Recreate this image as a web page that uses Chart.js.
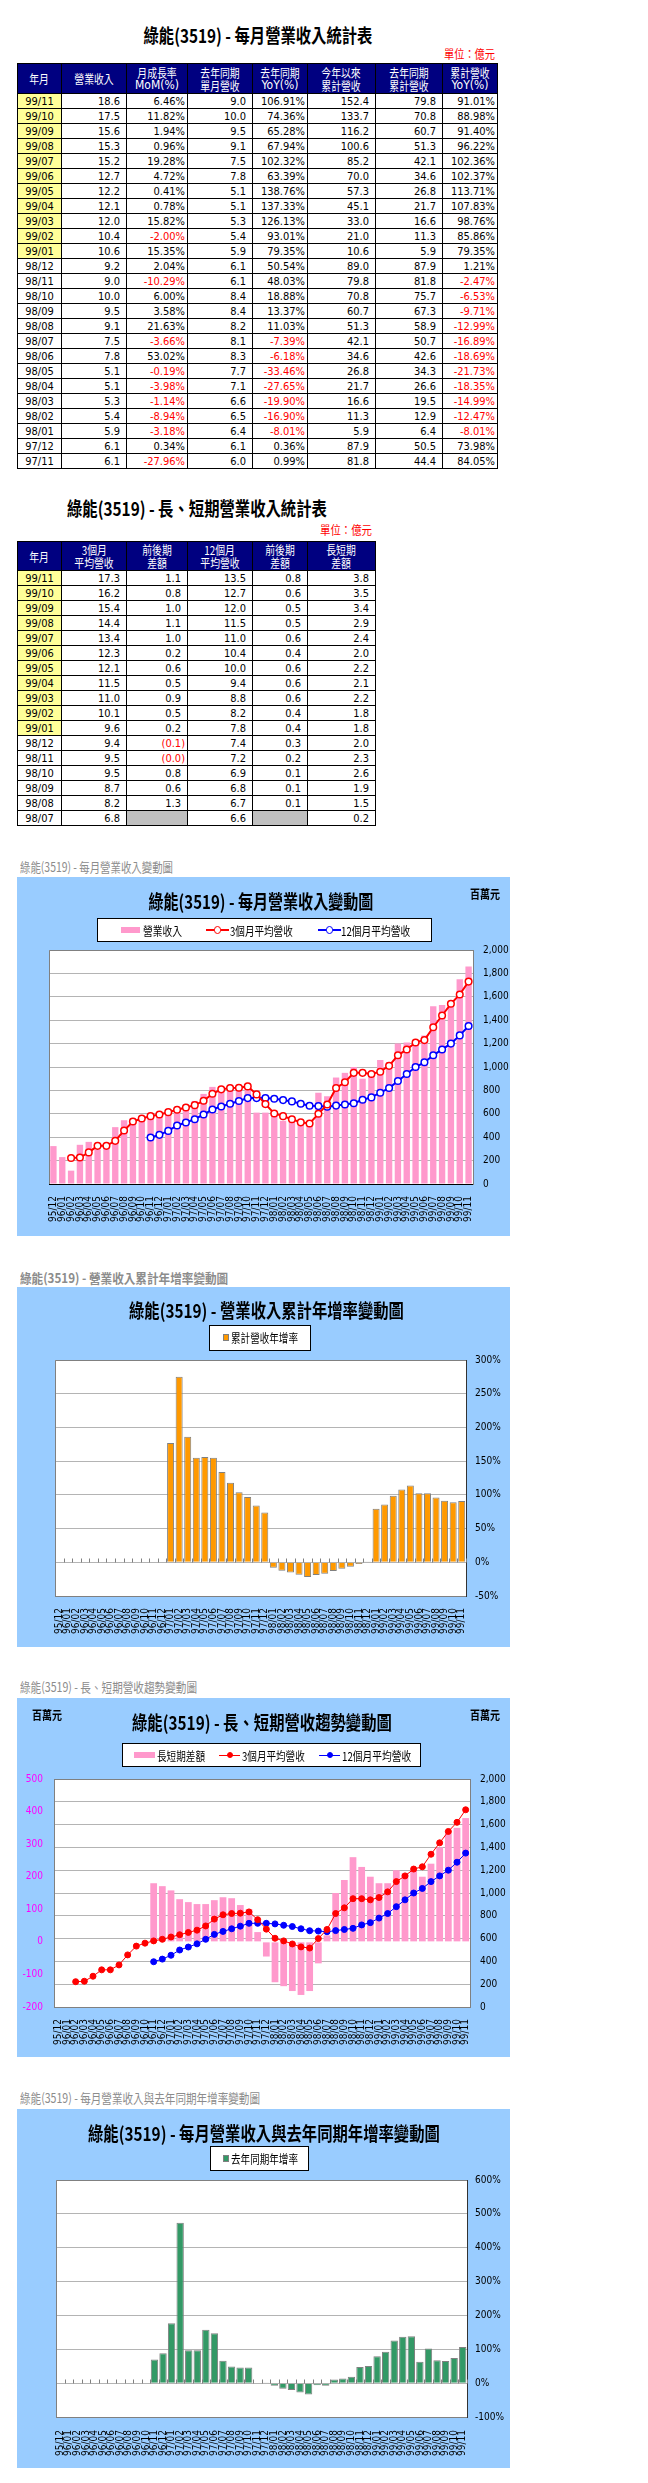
<!DOCTYPE html>
<html>
<head>
<meta charset="utf-8">
<script src="https://cdn.jsdelivr.net/npm/chart.js@4.4.1/dist/chart.umd.min.js"></script>
<style>
body{margin:0;width:648px;height:2483px;position:relative;background:#fff;overflow:hidden;}
.lbl{position:absolute;white-space:nowrap;line-height:1.25;font-family:'Noto Sans CJK TC',sans-serif;}
.cell{position:absolute;box-sizing:border-box;border:1px solid #000;display:flex;align-items:center;justify-content:flex-end;
  font-size:11px;line-height:13px;white-space:nowrap;overflow:hidden;color:#000;
  font-family:'Liberation Sans Narrow','DejaVu Sans Condensed','Noto Sans CJK TC',sans-serif;}
.cell.hd{background:#000080;color:#fff;justify-content:center;flex-direction:column;align-items:center;font-size:12px;}
.cell.hd span{display:block;}
.cell.hd .sx{transform:scaleX(.82);font-family:'Noto Sans CJK TC',sans-serif;font-size:12px;}
.cell.ym{justify-content:center;}
.cell.hl{background:#ffff99;}
.cell.neg{color:#ff0000;}
.cell.gray{background:#c0c0c0;}
.box{position:absolute;left:17px;width:493px;background:#99ccff;}
.box canvas{position:absolute;left:0;top:0;}
.lgd{position:absolute;background:#fff;border:1px solid #000;box-sizing:border-box;}
.pc{position:absolute;}
</style>
</head>
<body>
<div class="box" style="top:877px;height:359px"><canvas id="c1" width="493" height="359"></canvas></div>
<div class="box" style="top:1287px;height:360px"><canvas id="c2" width="493" height="360"></canvas></div>
<div class="box" style="top:1698px;height:359px"><canvas id="c3" width="493" height="359"></canvas></div>
<div class="box" style="top:2109px;height:359px"><canvas id="c4" width="493" height="359"></canvas></div>
<script>
// 月份 95/12 ~ 99/11
const months = ['95/12','96/01','96/02','96/03','96/04','96/05','96/06','96/07','96/08','96/09','96/10','96/11',
  '96/12','97/01','97/02','97/03','97/04','97/05','97/06','97/07','97/08','97/09','97/10','97/11',
  '97/12','98/01','98/02','98/03','98/04','98/05','98/06','98/07','98/08','98/09','98/10','98/11',
  '98/12','99/01','99/02','99/03','99/04','99/05','99/06','99/07','99/08','99/09','99/10','99/11'];

// 百萬元
const revenue = [324,230,114,335,360,296,335,486,545,565,575,600,
  610,640,650,660,710,770,830,810,820,840,840,610,
  610,590,540,530,510,510,780,750,910,950,1000,900,
  920,1060,1040,1200,1210,1220,1270,1520,1530,1560,1750,1860];
const avg3 = [null,null,222,226,270,326,326,369,457,534,560,580,
  594,614,634,654,674,711,771,809,820,823,834,766,
  683,603,580,553,527,517,600,680,820,870,950,950,
  940,960,1010,1100,1150,1210,1230,1340,1440,1540,1620,1730];
const avg12 = [null,null,null,null,null,null,null,null,null,null,null,397,
  420,454,500,526,554,594,637,663,686,709,734,734,
  734,729,717,706,686,669,666,660,670,680,690,720,
  740,780,820,880,940,1000,1040,1100,1150,1200,1270,1350];
const gapDiff = [null,null,null,null,null,null,null,null,null,null,null,180,
  171,158,131,122,116,116,128,137,134,113,100,30,
  -45,-124,-136,-151,-163,-151,-66,20,150,190,260,230,
  200,180,180,220,210,220,200,240,290,340,350,380];
// %
const cumYoY = [null,null,null,null,null,null,null,null,null,null,null,null,
  null,177,275,186,155,156,155,134,118,104,97,84.05,
  73.98,-8.01,-12.47,-14.99,-18.35,-21.73,-18.69,-16.89,-12.99,-9.71,-6.53,-2.47,
  1.21,79.35,85.86,98.76,107.83,113.71,102.37,102.36,96.22,91.40,88.98,91.01];
const monthYoY = [null,null,null,null,null,null,null,null,null,null,null,70,
  88,177,474,97,97,158,147,66,49,46,46,0.99,
  0.36,-8.01,-16.90,-19.90,-27.65,-33.46,-6.18,-7.39,11.03,13.37,18.88,48.03,
  50.54,79.35,93.01,126.13,137.33,138.76,63.39,102.32,67.94,65.28,74.36,106.91];

// 每月營業收入統計表 (億元)
const tblMonths = ['99/11','99/10','99/09','99/08','99/07','99/06','99/05','99/04','99/03','99/02','99/01',
  '98/12','98/11','98/10','98/09','98/08','98/07','98/06','98/05','98/04','98/03','98/02','98/01','97/12','97/11'];
const tblRev = [18.6,17.5,15.6,15.3,15.2,12.7,12.2,12.1,12.0,10.4,10.6,9.2,9.0,10.0,9.5,9.1,7.5,7.8,5.1,5.1,5.3,5.4,5.9,6.1,6.1];
const tblMom = [6.46,11.82,1.94,0.96,19.28,4.72,0.41,0.78,15.82,-2.00,15.35,2.04,-10.29,6.00,3.58,21.63,-3.66,53.02,-0.19,-3.98,-1.14,-8.94,-3.18,0.34,-27.96];
const tblLyRev = [9.0,10.0,9.5,9.1,7.5,7.8,5.1,5.1,5.3,5.4,5.9,6.1,6.1,8.4,8.4,8.2,8.1,8.3,7.7,7.1,6.6,6.5,6.4,6.1,6.0];
const tblYoy = [106.91,74.36,65.28,67.94,102.32,63.39,138.76,137.33,126.13,93.01,79.35,50.54,48.03,18.88,13.37,11.03,-7.39,-6.18,-33.46,-27.65,-19.90,-16.90,-8.01,0.36,0.99];
const tblYtd = [152.4,133.7,116.2,100.6,85.2,70.0,57.3,45.1,33.0,21.0,10.6,89.0,79.8,70.8,60.7,51.3,42.1,34.6,26.8,21.7,16.6,11.3,5.9,87.9,81.8];
const tblLyYtd = [79.8,70.8,60.7,51.3,42.1,34.6,26.8,21.7,16.6,11.3,5.9,87.9,81.8,75.7,67.3,58.9,50.7,42.6,34.3,26.6,19.5,12.9,6.4,50.5,44.4];
const tblYtdYoy = [91.01,88.98,91.40,96.22,102.36,102.37,113.71,107.83,98.76,85.86,79.35,1.21,-2.47,-6.53,-9.71,-12.99,-16.89,-18.69,-21.73,-18.35,-14.99,-12.47,-8.01,73.98,84.05];

// 長、短期營業收入統計表 (億元)
const t2Months = ['99/11','99/10','99/09','99/08','99/07','99/06','99/05','99/04','99/03','99/02','99/01','98/12','98/11','98/10','98/09','98/08','98/07'];
const t2Avg3 = [17.3,16.2,15.4,14.4,13.4,12.3,12.1,11.5,11.0,10.1,9.6,9.4,9.5,9.5,8.7,8.2,6.8];
const t2Avg3Chg = [1.1,0.8,1.0,1.1,1.0,0.2,0.6,0.5,0.9,0.5,0.2,-0.1,-0.04,0.8,0.6,1.3,null];
const t2Avg12 = [13.5,12.7,12.0,11.5,11.0,10.4,10.0,9.4,8.8,8.2,7.8,7.4,7.2,6.9,6.8,6.7,6.6];
const t2Avg12Chg = [0.8,0.6,0.5,0.5,0.6,0.4,0.6,0.6,0.6,0.4,0.4,0.3,0.2,0.1,0.1,0.1,null];
const t2Diff = [3.8,3.5,3.4,2.9,2.4,2.0,2.2,2.1,2.2,1.8,1.8,2.0,2.3,2.6,1.9,1.5,0.2];

// ---------- 文字 ----------
function place(text, o) {
    const d = document.createElement('div');
    d.className = 'lbl';
    d.textContent = text;
    d.style.fontSize = (o.size || 12) + 'px';
    if (o.bold) d.style.fontWeight = 'bold';
    d.style.color = o.color || '#000';
    document.body.appendChild(d);
    const w = d.offsetWidth, h = d.offsetHeight;
    const s = o.w ? o.w / w : 1;
    let left, origin;
    if (o.cx !== undefined) { left = o.cx - w / 2; origin = 'center'; }
    else if (o.x1 !== undefined) { left = o.x1 - w; origin = 'right'; }
    else { left = o.x0; origin = 'left'; }
    d.style.left = left + 'px';
    d.style.top = (o.cy - h / 2) + 'px';
    d.style.transformOrigin = origin + ' center';
    d.style.transform = 'scaleX(' + s + ')';
}

function piece(x, y, w, h, css) {
    const d = document.createElement('div');
    d.className = 'pc';
    d.style.cssText = 'left:' + x + 'px;top:' + y + 'px;width:' + w + 'px;height:' + h + 'px;' + (css || '');
    document.body.appendChild(d);
    return d;
}
function legendBox(x, y, w, h) {
    const d = document.createElement('div');
    d.className = 'lgd';
    d.style.cssText = 'left:' + x + 'px;top:' + y + 'px;width:' + w + 'px;height:' + h + 'px;';
    document.body.appendChild(d);
}
function lineMark(x1, x2, y, color, lw, r, fill) {
    piece(x1, y - lw / 2, x2 - x1, lw, 'background:' + color);
    piece(((x1 + x2) / 2) - r, y - r, 2 * r, 2 * r,
        'box-sizing:border-box;border-radius:50%;background:' + fill + ';border:1.5px solid ' + color);
}

// ---------- 表格 ----------
function cell(x0, x1, y0, y1, html, cls, pr) {
    const d = document.createElement('div');
    d.className = 'cell ' + (cls || '');
    d.style.left = x0 + 'px';
    d.style.top = y0 + 'px';
    d.style.width = (x1 - x0 + 1) + 'px';
    d.style.height = (y1 - y0 + 1) + 'px';
    if (pr !== undefined) d.style.paddingRight = pr + 'px';
    d.innerHTML = html;
    document.body.appendChild(d);
}
function header(lines) {
    return lines.map(t => /[\u4e00-\u9fff]/.test(t) ? '<span class="sx">' + t + '</span>' : '<span>' + t + '</span>').join('');
}

place('綠能(3519) - 每月營業收入統計表', { cx: 257.5, cy: 35, w: 229, size: 19, bold: true });
place('單位：億元', { x1: 495, cy: 53, w: 51, size: 12, color: '#ff0000' });

const xs1 = [17, 61, 126, 187, 252, 307, 375, 442, 497];
const head1 = [['年月'], ['營業收入'], ['月成長率', 'MoM(%)'], ['去年同期', '單月營收'], ['去年同期', 'YoY(%)'],
    ['今年以來', '累計營收'], ['去年同期', '累計營收'], ['累計營收', 'YoY(%)']];
head1.forEach((h, c) => cell(xs1[c], xs1[c + 1], 63, 93, header(h), 'hd'));
tblMonths.forEach((m, i) => {
    const y0 = 93 + i * 15, y1 = y0 + 15;
    const num = (c, v) => cell(xs1[c], xs1[c + 1], y0, y1, v.toFixed(1), '', 6);
    const pct = (c, v) => cell(xs1[c], xs1[c + 1], y0, y1, v.toFixed(2) + '%', v < 0 ? 'neg' : '', 2);
    cell(xs1[0], xs1[1], y0, y1, m, 'ym' + (m.startsWith('99') ? ' hl' : ''));
    num(1, tblRev[i]);
    pct(2, tblMom[i]);
    num(3, tblLyRev[i]);
    pct(4, tblYoy[i]);
    num(5, tblYtd[i]);
    num(6, tblLyYtd[i]);
    pct(7, tblYtdYoy[i]);
});

place('綠能(3519) - 長、短期營業收入統計表', { cx: 197, cy: 508, w: 260, size: 19, bold: true });
place('單位：億元', { x1: 372, cy: 529, w: 52, size: 12, color: '#ff0000' });

const xs2 = [17, 61, 126, 187, 252, 307, 375];
const head2 = [['年月'], ['3個月', '平均營收'], ['前後期', '差額'], ['12個月', '平均營收'], ['前後期', '差額'], ['長短期', '差額']];
head2.forEach((h, c) => cell(xs2[c], xs2[c + 1], 541, 570, header(h), 'hd'));
t2Months.forEach((m, i) => {
    const y0 = 570 + i * 15, y1 = y0 + 15;
    const num = (c, v) => cell(xs2[c], xs2[c + 1], y0, y1, v.toFixed(1), '', 6);
    const chg = (c, v) => {
        if (v === null) cell(xs2[c], xs2[c + 1], y0, y1, '', 'gray');
        else if (v < 0) cell(xs2[c], xs2[c + 1], y0, y1, '(' + Math.abs(v).toFixed(1) + ')', 'neg', 2);
        else num(c, v);
    };
    cell(xs2[0], xs2[1], y0, y1, m, 'ym' + (m.startsWith('99') ? ' hl' : ''));
    num(1, t2Avg3[i]);
    chg(2, t2Avg3Chg[i]);
    num(3, t2Avg12[i]);
    chg(4, t2Avg12Chg[i]);
    num(5, t2Diff[i]);
});

// ---------- 圖表 ----------
Chart.defaults.font.family = "'Liberation Sans Narrow','DejaVu Sans Condensed',sans-serif";
Chart.defaults.font.size = 10;
Chart.defaults.color = '#000';
Chart.defaults.animation = false;
Chart.defaults.plugins.legend.display = false;
Chart.defaults.plugins.tooltip.enabled = false;

// 白底 + 左、上框線
const frame = {
    id: 'frame',
    beforeDraw(c) {
        const a = c.chartArea, ctx = c.ctx;
        ctx.save();
        ctx.fillStyle = '#fff';
        ctx.fillRect(a.left, a.top, a.width, a.height);
        ctx.restore();
    },
    beforeDatasetsDraw(c) {
        const a = c.chartArea, ctx = c.ctx;
        const l = Math.round(a.left) + 0.5, t = Math.round(a.top) + 0.5;
        ctx.save();
        ctx.strokeStyle = '#808080';
        ctx.lineWidth = 1;
        ctx.beginPath();
        ctx.moveTo(l, Math.round(a.bottom));
        ctx.lineTo(l, t);
        ctx.lineTo(Math.round(a.right), t);
        ctx.stroke();
        ctx.restore();
    }
};

// 0 軸上的刻度
const zeroTicks = {
    id: 'zeroTicks',
    beforeDatasetsDraw(c) {
        const x = c.scales.x, y0 = Math.round(c.scales.y.getPixelForValue(0)) + 0.5;
        const step = x.getPixelForValue(1) - x.getPixelForValue(0);
        const ctx = c.ctx;
        ctx.save();
        ctx.strokeStyle = '#808080';
        ctx.lineWidth = 1;
        ctx.beginPath();
        for (let i = 0; i <= months.length; i++) {
            const px = Math.round(x.getPixelForValue(0) - step / 2 + i * step) + 0.5;
            ctx.moveTo(px, y0);
            ctx.lineTo(px, y0 - 4);
        }
        ctx.stroke();
        ctx.restore();
    }
};

function xAxis(h, color, pad) {
    return {
        type: 'category',
        grid: { display: false, drawTicks: false },
        border: { color: color },
        ticks: { autoSkip: false, maxRotation: 90, minRotation: 90, padding: pad },
        afterFit(s) { s.height = h; }
    };
}
function yRight(min, max, step, w, pad, fmt, borderColor) {
    return {
        position: 'right', min: min, max: max,
        ticks: { stepSize: step, padding: pad, callback: fmt },
        grid: { color: '#b4b4b4', drawTicks: false },
        border: { color: borderColor },
        afterFit(s) { s.width = w; }
    };
}
const money = v => v.toLocaleString('en-US');
const pctFmt = v => v + '%';

// 圖一：每月營業收入變動圖
new Chart(document.getElementById('c1'), {
    type: 'bar',
    data: {
        labels: months,
        datasets: [
            { type: 'bar', label: '營業收入', data: revenue, backgroundColor: '#ff99cc',
              barPercentage: 0.72, categoryPercentage: 1, order: 3 },
            { type: 'line', label: '3個月平均營收', data: avg3, borderColor: '#ff0000', borderWidth: 2,
              pointRadius: 3.3, pointBackgroundColor: '#fff', pointBorderColor: '#ff0000', pointBorderWidth: 1.5, order: 1 },
            { type: 'line', label: '12個月平均營收', data: avg12, borderColor: '#0000ff', borderWidth: 2,
              pointRadius: 3.3, pointBackgroundColor: '#fff', pointBorderColor: '#0000ff', pointBorderWidth: 1.5, order: 2 }
        ]
    },
    options: {
        responsive: false, devicePixelRatio: 1,
        layout: { padding: { left: 32, top: 73, right: 0, bottom: 0 } },
        scales: { x: xAxis(52, '#000', 12), y: yRight(0, 2000, 200, 37, 10, money, '#808080') }
    },
    plugins: [frame]
});

// 圖二：營業收入累計年增率變動圖
new Chart(document.getElementById('c2'), {
    type: 'bar',
    data: {
        labels: months,
        datasets: [{ label: '累計營收年增率', data: cumYoY, backgroundColor: '#ff9900', borderColor: '#808080',
            borderWidth: 1, barPercentage: 0.82, categoryPercentage: 1 }]
    },
    options: {
        responsive: false, devicePixelRatio: 1,
        layout: { padding: { left: 38, top: 73, right: 0, bottom: 0 } },
        scales: { x: xAxis(51, '#808080', 12), y: yRight(-50, 300, 50, 44, 9, pctFmt, '#333') }
    },
    plugins: [frame, zeroTicks]
});

// 圖三：長、短期營收趨勢變動圖
new Chart(document.getElementById('c3'), {
    type: 'bar',
    data: {
        labels: months,
        datasets: [
            { type: 'bar', label: '長短期差額', data: gapDiff, yAxisID: 'yL', backgroundColor: '#ff99cc',
              barPercentage: 0.78, categoryPercentage: 1, order: 3 },
            { type: 'line', label: '3個月平均營收', data: avg3, yAxisID: 'y', borderColor: '#ff0000', borderWidth: 1,
              pointRadius: 3, pointBackgroundColor: '#ff0000', pointBorderColor: '#ff0000', order: 1 },
            { type: 'line', label: '12個月平均營收', data: avg12, yAxisID: 'y', borderColor: '#0000ff', borderWidth: 1,
              pointRadius: 3, pointBackgroundColor: '#0000ff', pointBorderColor: '#0000ff', order: 2 }
        ]
    },
    options: {
        responsive: false, devicePixelRatio: 1,
        layout: { padding: { left: 0, top: 81, right: 0, bottom: 0 } },
        scales: {
            x: xAxis(50, '#808080', 12),
            yL: {
                position: 'left', min: -200, max: 500,
                ticks: { stepSize: 100, padding: 11, color: '#ff00ff' },
                grid: { drawOnChartArea: false, drawTicks: false },
                border: { color: '#808080' },
                afterFit(s) { s.width = 37; }
            },
            y: yRight(0, 2000, 200, 40, 10, money, '#808080')
        }
    },
    plugins: [frame]
});

// 圖四：每月營業收入與去年同期年增率變動圖
new Chart(document.getElementById('c4'), {
    type: 'bar',
    data: {
        labels: months,
        datasets: [{ label: '去年同期年增率', data: monthYoY, backgroundColor: '#339966', borderColor: '#808080',
            borderWidth: 1, barPercentage: 0.86, categoryPercentage: 1 }]
    },
    options: {
        responsive: false, devicePixelRatio: 1,
        layout: { padding: { left: 39, top: 71, right: 0, bottom: 0 } },
        scales: { x: xAxis(51, '#808080', 13), y: yRight(-100, 600, 100, 43, 8, pctFmt, '#333') }
    },
    plugins: [frame, zeroTicks]
});

// 圖上的標題與圖例
place('綠能(3519) - 每月營業收入變動圖', { x0: 20, cy: 867, w: 153, size: 13, color: '#8c8c8c' });
place('綠能(3519) - 每月營業收入變動圖', { cx: 261, cy: 901, w: 225, size: 19, bold: true });
place('百萬元', { x0: 470, cy: 893, w: 30, size: 12, bold: true });
legendBox(97, 918, 335, 24);
piece(121, 927, 19, 6, 'background:#ff99cc');
place('營業收入', { x0: 143, cy: 930, w: 39, size: 12 });
lineMark(206, 229, 930, '#ff0000', 2, 3.8, '#fff');
place('3個月平均營收', { x0: 230, cy: 930, w: 63, size: 12 });
lineMark(318, 341, 930, '#0000ff', 2, 3.8, '#fff');
place('12個月平均營收', { x0: 341, cy: 930, w: 69, size: 12 });

place('綠能(3519) -  營業收入累計年增率變動圖', { x0: 20, cy: 1278, w: 208, size: 13, bold: true, color: '#8c8c8c' });
place('綠能(3519) -  營業收入累計年增率變動圖', { cx: 266, cy: 1310, w: 275, size: 19, bold: true });
legendBox(209, 1325, 102, 26);
piece(223, 1334, 6, 7, 'box-sizing:border-box;background:#ff9900;border:1px solid #808080');
place('累計營收年增率', { x0: 231, cy: 1337.5, w: 67, size: 12 });

place('綠能(3519) -  長、短期營收趨勢變動圖', { x0: 20, cy: 1687, w: 177, size: 13, color: '#8c8c8c' });
place('綠能(3519) - 長、短期營收趨勢變動圖', { cx: 262, cy: 1722, w: 260, size: 19, bold: true });
place('百萬元', { x0: 32, cy: 1714, w: 30, size: 12, bold: true });
place('百萬元', { x0: 470, cy: 1714, w: 30, size: 12, bold: true });
legendBox(122, 1743, 299, 24);
piece(134, 1752, 21, 6, 'background:#ff99cc');
place('長短期差額', { x0: 157, cy: 1755, w: 48, size: 12 });
lineMark(219, 240, 1755, '#ff0000', 1, 3, '#ff0000');
place('3個月平均營收', { x0: 242, cy: 1755, w: 63, size: 12 });
lineMark(319, 340, 1755, '#0000ff', 1, 3, '#0000ff');
place('12個月平均營收', { x0: 342, cy: 1755, w: 69, size: 12 });

place('綠能(3519) -  每月營業收入與去年同期年增率變動圖', { x0: 20, cy: 2098, w: 240, size: 13, color: '#8c8c8c' });
place('綠能(3519) -  每月營業收入與去年同期年增率變動圖', { cx: 263.5, cy: 2133, w: 352, size: 19, bold: true });
legendBox(210, 2146, 99, 25);
piece(223, 2155, 6, 7, 'box-sizing:border-box;background:#339966;border:1px solid #808080');
place('去年同期年增率', { x0: 231, cy: 2158.5, w: 67, size: 12 });
</script>
</body>
</html>
